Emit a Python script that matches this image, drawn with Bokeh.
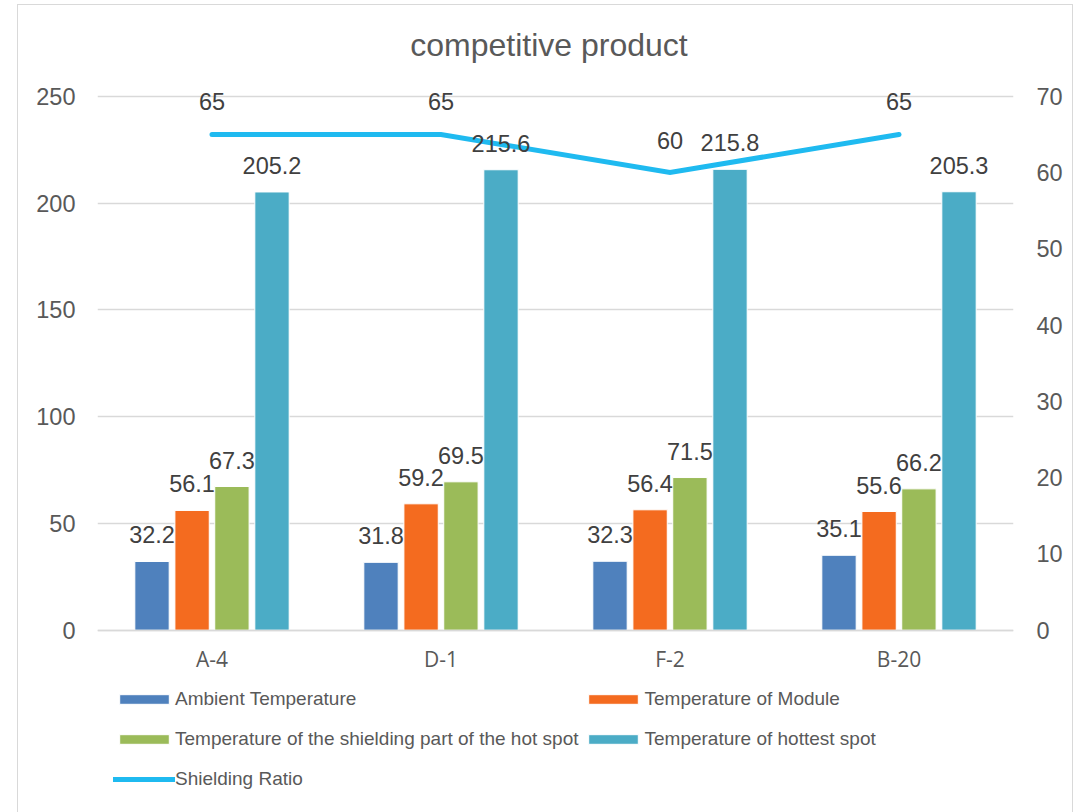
from bokeh.plotting import figure
from bokeh.models import (Range1d, LinearAxis, FactorRange, ColumnDataSource, LabelSet,
                          Label, Legend, LegendItem)
from bokeh.core.properties import value
from bokeh.transform import dodge
from bokeh.embed import file_html
from bokeh.resources import INLINE

# --- data ---------------------------------------------------------------
categories = ["A-4", "D-1", "F-2", "B-20"]
ambient = [32.2, 31.8, 32.3, 35.1]
module = [56.1, 59.2, 56.4, 55.6]
shield_part = [67.3, 69.5, 71.5, 66.2]
hottest = [205.2, 215.6, 215.8, 205.3]
ratio = [65, 65, 60, 65]

chart_title = "competitive product"
bar_names = ["Ambient Temperature", "Temperature of Module",
             "Temperature of the shielding part of the hot spot",
             "Temperature of hottest spot"]
line_name = "Shielding Ratio"
left_ticks = [0, 50, 100, 150, 200, 250]
right_ticks = [0, 10, 20, 30, 40, 50, 60, 70]
left_max, right_max = 250, 70

# --- styling ------------------------------------------------------------
bar_colors = ["#4F81BD", "#F46B1F", "#9BBB59", "#4BACC6"]
line_color = "#1FBAF0"
offsets = [-0.262, -0.087, 0.087, 0.262]
bar_width = 0.15
FONT = "Liberation Sans"
# the plot area reaches past the axis range on both ends, so the title
# and the legend are drawn inside it
below, above = 90, 42.5
scale = right_max / left_max

src = ColumnDataSource(dict(
    cat=categories,
    s0=ambient, s1=module, s2=shield_part, s3=hottest,
    t0=[f"{v}" for v in ambient], t1=[f"{v}" for v in module],
    t2=[f"{v}" for v in shield_part], t3=[f"{v}" for v in hottest],
    r=ratio, rt=[f"{v}" for v in ratio],
))

p = figure(x_range=FactorRange(*categories),
           y_range=Range1d(-below, left_max + above),
           frame_width=916, frame_height=817, margin=(5, 0, 0, 18),
           min_border_left=79, min_border_right=59,
           min_border_top=0, min_border_bottom=10,
           output_backend="svg", toolbar_location=None)
p.styles = {"outline": "1.5px solid #D9D9D9"}
p.outline_line_color = None
p.background_fill_color = "white"
p.border_fill_color = "white"

p.extra_y_ranges = {"ratio": Range1d(-below * scale, (left_max + above) * scale)}

# title, centred over the plot
p.add_layout(Label(x=len(categories) / 2, y=left_max, x_offset=-6.5, y_offset=51,
                   text=chart_title, text_align="center", text_baseline="middle",
                   text_font=FONT, text_font_size="32px", text_color="#595959"))

# axes
p.yaxis.ticker = left_ticks
p.ygrid.ticker = left_ticks
p.ygrid.grid_line_color = "#D9D9D9"
p.ygrid.grid_line_width = 1.3
p.xgrid.grid_line_color = None
ya = p.yaxis[0]
ya.axis_line_color = None
ya.major_tick_line_color = None
ya.minor_tick_line_color = None
ya.major_label_text_font = FONT
ya.major_label_text_font_size = "23.5px"
ya.major_label_text_color = "#595959"
ya.major_label_standoff = 16

right_axis = LinearAxis(y_range_name="ratio", ticker=right_ticks,
                        axis_line_color=None, major_tick_line_color=None,
                        minor_tick_line_color=None,
                        major_label_text_font=FONT,
                        major_label_text_font_size="23.5px",
                        major_label_text_color="#595959",
                        major_label_standoff=17)
p.add_layout(right_axis, "right")

xa = p.xaxis[0]
xa.fixed_location = 0
xa.axis_line_color = "#D9D9D9"
xa.axis_line_width = 1.5
xa.major_tick_line_color = None
xa.minor_tick_line_color = None
xa.major_label_text_font = "Open Sans"
xa.major_label_text_font_size = "21px"
xa.major_label_text_color = "#595959"
xa.major_label_standoff = 9

# bars + value labels
bar_renderers = []
for i, (name, col) in enumerate(zip(bar_names, bar_colors)):
    r = p.vbar(x=dodge("cat", offsets[i], range=p.x_range), top=f"s{i}",
               width=bar_width, source=src, fill_color=col,
               line_color="white", line_width=1)
    bar_renderers.append(r)
    p.add_layout(LabelSet(x=dodge("cat", offsets[i], range=p.x_range), y=f"s{i}",
                          text=f"t{i}", source=src, text_align="center",
                          text_baseline="bottom", y_offset=18,
                          text_font=value(FONT), text_font_size=value("23.5px"),
                          text_color="#404040"))

# shielding ratio line on the right axis
line_r = p.line(x="cat", y="r", source=src, y_range_name="ratio",
                line_color=line_color, line_width=5, line_cap="round",
                line_join="miter")
p.add_layout(LabelSet(x="cat", y="r", text="rt", source=src, y_range_name="ratio",
                      text_align="center", text_baseline="bottom", y_offset=24,
                      text_font=value(FONT), text_font_size=value("23.5px"),
                      text_color="#404040"))

# legend, two columns under the category labels
items = [LegendItem(label=bar_names[0], renderers=[bar_renderers[0]]),
         LegendItem(label=bar_names[1], renderers=[bar_renderers[1]]),
         LegendItem(label=bar_names[2], renderers=[bar_renderers[2]]),
         LegendItem(label=bar_names[3], renderers=[bar_renderers[3]]),
         LegendItem(label=line_name, renderers=[line_r])]
legend = Legend(items=items, orientation="horizontal", ncols=2,
                location=(16, 25), margin=0, padding=0,
                glyph_width=62, glyph_height=12, label_standoff=0,
                label_height=36, spacing=4,
                label_text_font=FONT, label_text_font_size="19px",
                label_text_color="#595959",
                border_line_color=None, background_fill_alpha=0)
p.add_layout(legend, "center")

open("out.html", "w").write(file_html(p, INLINE))
